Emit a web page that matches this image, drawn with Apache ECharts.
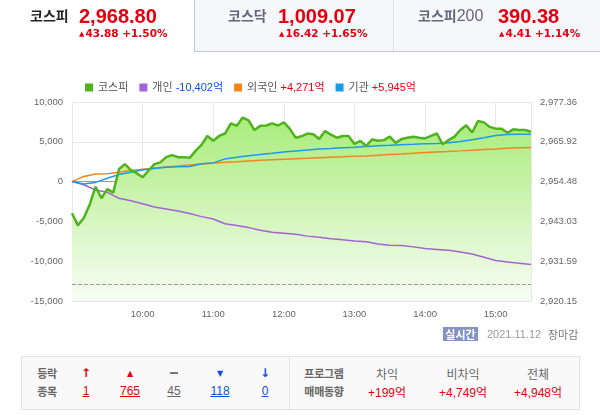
<!DOCTYPE html>
<html>
<head>
<meta charset="utf-8">
<script src="https://cdn.jsdelivr.net/npm/echarts@6/dist/echarts.min.js"></script>
<style>
  html, body { margin: 0; padding: 0; background: #fff; }
  body { width: 600px; height: 415px; position: relative; overflow: hidden; font-family: 'Noto Sans CJK KR', sans-serif; }
  #chart { position: absolute; left: 0; top: 0; width: 600px; height: 415px; }
  .abs { position: absolute; white-space: nowrap; }
  .c { position: absolute; white-space: nowrap; transform: translate(-50%, -50%); }
  .tab { position: absolute; top: -1px; height: 52px; background: #f6f7fb; border-bottom: 1px solid #c3c6d1; }
  .name { font-size: 14px; line-height: 14px; top: 8px; }
  .big { font-family: 'Liberation Sans', sans-serif; font-weight: bold; font-size: 20px; line-height: 20px; top: 6px; color: #e6000f; }
  .sub { font-family: 'DejaVu Sans', sans-serif; font-weight: bold; font-size: 10.5px; line-height: 11px; top: 28px; color: #e6000f; }
  .sub .tri { font-size: 7px; vertical-align: 1px; margin-right: 1px; }
  .box { position: absolute; left: 21px; top: 356px; width: 557px; height: 52px; background: #f9f9f9; border: 1px solid #e3e3e3; }
  .lbl { font-size: 11px; color: #666; font-weight: bold; letter-spacing: -0.3px; }
  .num { font-family: 'Liberation Sans', sans-serif; font-size: 12px; text-decoration: underline; }
  .red { color: #e6000f; }
  .blue { color: #0b50e0; }
  .gray { color: #666; }
</style>
</head>
<body>
<div id="chart"></div>

<!-- 상단 지수 탭 -->
<div class="abs name" style="left:30px;font-weight:bold;color:#222;">코스피</div>
<div class="abs big" style="left:79px;">2,968.80</div>
<div class="abs sub" style="left:79px;"><span class="tri">▲</span>43.88 +1.50%</div>

<div class="tab" style="left:194px;width:198px;border-left:1px solid #c3c6d1;"></div>
<div class="tab" style="left:393px;width:207px;border-left:1px solid #dcdee5;"></div>
<div class="abs name" style="left:228px;font-weight:bold;color:#62677b;">코스닥</div>
<div class="abs big" style="left:278px;">1,009.07</div>
<div class="abs sub" style="left:279px;"><span class="tri">▲</span>16.42 +1.65%</div>
<div class="abs name" style="left:418px;font-weight:bold;color:#62677b;">코스피<span style="font-family:'Liberation Sans';font-weight:normal;font-size:16px;">200</span></div>
<div class="abs big" style="left:498px;">390.38</div>
<div class="abs sub" style="left:499px;"><span class="tri">▲</span>4.41 +1.14%</div>

<!-- 기준 시각 -->
<div class="abs" style="left:443px;top:327px;width:35px;height:14px;background:#8593c2;color:#fff;font-size:11px;line-height:14px;text-align:center;font-weight:bold;">실시간</div>
<div class="abs" style="left:487px;top:327px;font-family:'Liberation Sans';font-size:11px;line-height:14px;color:#999;">2021.11.12</div>
<div class="abs" style="left:548px;top:327px;font-size:11px;line-height:14px;color:#777;">장마감</div>

<!-- 등락 종목 / 프로그램 매매동향 -->
<div class="box"></div>
<div class="abs" style="left:289px;top:357px;width:1px;height:52px;background:#e3e3e3;"></div>
<div class="c lbl" style="left:47px;top:373px;">등락</div>
<div class="c lbl" style="left:47px;top:391px;">종목</div>
<div class="c red" style="left:86px;top:373px;font-family:'DejaVu Sans';font-weight:bold;font-size:12px;">↑</div>
<div class="c red" style="left:130px;top:373px;font-family:'DejaVu Sans';font-size:8px;">▲</div>
<div class="abs" style="left:170px;top:372px;width:8px;height:2px;background:#777;"></div>
<div class="c blue" style="left:220px;top:373px;font-family:'DejaVu Sans';font-size:8px;">▼</div>
<div class="c blue" style="left:265px;top:373px;font-family:'DejaVu Sans';font-weight:bold;font-size:12px;">↓</div>
<div class="c num red" style="left:86px;top:391px;">1</div>
<div class="c num red" style="left:130px;top:391px;">765</div>
<div class="c num gray" style="left:174px;top:391px;">45</div>
<div class="c num blue" style="left:220px;top:391px;">118</div>
<div class="c num blue" style="left:265px;top:391px;">0</div>
<div class="c lbl" style="left:324px;top:373px;">프로그램</div>
<div class="c lbl" style="left:324px;top:391px;">매매동향</div>
<div class="c" style="left:387px;top:373px;font-size:12px;color:#666;">차익</div>
<div class="c" style="left:463px;top:373px;font-size:12px;color:#666;">비차익</div>
<div class="c" style="left:538px;top:373px;font-size:12px;color:#666;">전체</div>
<div class="c red" style="left:387px;top:391px;font-size:12px;font-family:'Liberation Sans','Noto Sans CJK KR';">+199억</div>
<div class="c red" style="left:463px;top:391px;font-size:12px;font-family:'Liberation Sans','Noto Sans CJK KR';">+4,749억</div>
<div class="c red" style="left:538px;top:391px;font-size:12px;font-family:'Liberation Sans','Noto Sans CJK KR';">+4,948억</div>

<script>
// 코스피 지수 (5분 간격)
var kospiTimes = [
  '09:00','09:05','09:10','09:15','09:20','09:25','09:30','09:35','09:40','09:45','09:50','09:55',
  '10:00','10:05','10:10','10:15','10:20','10:25','10:30','10:35','10:40','10:45','10:50','10:55',
  '11:00','11:05','11:10','11:15','11:20','11:25','11:30','11:35','11:40','11:45','11:50','11:55',
  '12:00','12:05','12:10','12:15','12:20','12:25','12:30','12:35','12:40','12:45','12:50','12:55',
  '13:00','13:05','13:10','13:15','13:20','13:25','13:30','13:35','13:40','13:45','13:50','13:55',
  '14:00','14:05','14:10','14:15','14:20','14:25','14:30','14:35','14:40','14:45','14:50','14:55',
  '15:00','15:05','15:10','15:15','15:20','15:25','15:30'
];
var kospi = [
  2945.4, 2941.9, 2944.0, 2947.8, 2953.0, 2949.7, 2952.3, 2951.3, 2958.1, 2959.5, 2957.8, 2956.9,
  2955.7, 2957.6, 2959.5, 2960.0, 2961.5, 2962.1, 2961.5, 2961.5, 2961.3, 2963.3, 2965.0, 2967.6,
  2966.2, 2967.6, 2968.3, 2971.2, 2970.5, 2972.9, 2972.1, 2969.3, 2970.5, 2970.6, 2971.2, 2970.6,
  2971.5, 2969.7, 2967.1, 2967.5, 2968.3, 2968.1, 2966.7, 2969.0, 2968.0, 2967.1, 2967.6, 2967.6,
  2965.3, 2966.2, 2964.7, 2966.6, 2966.2, 2966.4, 2967.4, 2965.6, 2966.7, 2967.1, 2967.4, 2967.1,
  2966.9, 2967.6, 2968.3, 2965.2, 2966.4, 2967.4, 2969.3, 2970.7, 2968.6, 2971.9, 2971.5, 2970.2,
  2969.7, 2969.7, 2968.5, 2969.5, 2969.3, 2969.3, 2968.8
];
var prevClose = 2924.92;

// 투자자별 순매수 (10분 간격, 억원)
var flowTimes = [
  '09:00','09:10','09:20','09:30','09:40','09:50','10:00','10:10','10:20','10:30','10:40','10:50',
  '11:00','11:10','11:20','11:30','11:40','11:50','12:00','12:10','12:20','12:30','12:40','12:50',
  '13:00','13:10','13:20','13:30','13:40','13:50','14:00','14:10','14:20','14:30','14:40','14:50',
  '15:00','15:10','15:20','15:30'
];
var personal = [
  0, -400, -1050, -1350, -2100, -2400, -2790, -3200, -3450, -3700, -4020, -4400,
  -4700, -5300, -5520, -5780, -6100, -6350, -6480, -6620, -6850, -6980, -7180, -7320,
  -7450, -7560, -7850, -8000, -8040, -8200, -8410, -8520, -8630, -8850, -9100, -9500,
  -9900, -10100, -10250, -10402
];
var foreign = [
  0, 650, 960, 980, 1180, 1380, 1550, 1700, 1850, 1960, 2100, 2200,
  2350, 2420, 2500, 2600, 2680, 2740, 2800, 2860, 2920, 3000, 3060, 3120,
  3200, 3220, 3300, 3420, 3460, 3560, 3650, 3720, 3780, 3860, 3950, 4020,
  4090, 4200, 4250, 4271
];
var institution = [
  0, -300, -100, 420, 900, 1180, 1460, 1650, 1800, 1875, 1900, 2250,
  2350, 2850, 3050, 3250, 3400, 3550, 3720, 3850, 3980, 4080, 4150, 4250,
  4330, 4420, 4500, 4560, 4640, 4680, 4750, 4800, 4880, 5050, 5250, 5500,
  5800, 5920, 5940, 5945
];

var legendNames = ['코스피', '개인', '외국인', '기관'];
var legendValues = ['', '-10,402억', '+4,271억', '+5,945억'];
var rightTicks = [2920.15, 2931.59, 2943.03, 2954.48, 2965.92, 2977.36];

function toMin(s) {
  var p = s.split(':');
  return (+p[0]) * 60 + (+p[1]);
}
function pairs(times, vals) {
  return times.map(function (t, i) { return [toMin(t), vals[i]]; });
}
function pad(n) { return n < 10 ? '0' + n : '' + n; }

var green = '#4fb41c';
var chart = echarts.init(document.getElementById('chart'));
var option = {
  animation: false,
  textStyle: { fontFamily: "'Liberation Sans', 'Noto Sans CJK KR', sans-serif" },
  grid: { left: 72, right: 69, top: 102, bottom: 114 },
  legend: {
    left: 80,
    top: 77,
    icon: 'rect',
    itemWidth: 8,
    itemHeight: 8,
    itemGap: 11,
    selectedMode: false,
    data: legendNames,
    formatter: function (name) {
      var v = legendValues[legendNames.indexOf(name)];
      if (!v) return '{n|' + name + '}';
      return '{n|' + name + '} {' + (v.charAt(0) === '-' ? 'neg' : 'pos') + '|' + v + '}';
    },
    textStyle: {
      fontSize: 11,
      color: '#555',
      rich: {
        n: { fontSize: 11, color: '#555' },
        neg: { fontSize: 11, color: '#0b50e0' },
        pos: { fontSize: 11, color: '#e6000f' }
      }
    }
  },
  xAxis: {
    type: 'value',
    min: 540,
    max: 930,
    interval: 60,
    axisLine: { lineStyle: { color: '#9a9a9a' } },
    axisTick: { inside: true, length: 4, lineStyle: { color: '#9a9a9a' } },
    axisLabel: {
      color: '#666',
      fontSize: 9.5,
      margin: 9,
      showMinLabel: false,
      showMaxLabel: false,
      formatter: function (v) { return pad(Math.floor(v / 60)) + ':' + pad(v % 60); }
    },
    splitLine: { show: true, lineStyle: { color: '#e8e8e8' } }
  },
  yAxis: [
    {
      type: 'value',
      min: -15000,
      max: 10000,
      interval: 5000,
      axisLine: { show: false },
      axisTick: { show: false },
      axisLabel: {
        color: '#666',
        fontSize: 9.5,
        margin: 9,
        formatter: function (v) { return v.toLocaleString('en-US'); }
      },
      splitLine: { lineStyle: { color: '#e8e8e8' } }
    },
    {
      type: 'value',
      position: 'right',
      min: rightTicks[0],
      max: rightTicks[rightTicks.length - 1],
      axisLine: { show: false },
      axisTick: { show: false },
      splitLine: { show: false },
      axisLabel: {
        color: '#666',
        fontSize: 9.5,
        margin: 9,
        customValues: rightTicks,
        formatter: function (v) {
          return v.toLocaleString('en-US', { minimumFractionDigits: 2, maximumFractionDigits: 2 });
        }
      }
    }
  ],
  series: [
    {
      // 지수 영역 (선 아래 채움)
      name: '코스피',
      type: 'line',
      yAxisIndex: 1,
      data: pairs(kospiTimes, kospi),
      showSymbol: false,
      itemStyle: { color: green },
      lineStyle: { width: 0 },
      areaStyle: {
        origin: 'start',
        opacity: 1,
        color: new echarts.graphic.LinearGradient(0, 0, 0, 1, [
          { offset: 0, color: '#a9ec7b' },
          { offset: 1, color: '#f8fdf5' }
        ])
      },
      markLine: {
        silent: true,
        symbol: 'none',
        label: { show: false },
        lineStyle: { color: '#999', type: 'dashed', width: 1 },
        data: [{ yAxis: prevClose }]
      },
      z: 1
    },
    {
      name: '개인',
      type: 'line',
      data: pairs(flowTimes, personal),
      showSymbol: false,
      itemStyle: { color: '#a463d4' },
      lineStyle: { width: 1.5, color: '#a463d4' },
      z: 2
    },
    {
      name: '외국인',
      type: 'line',
      data: pairs(flowTimes, foreign),
      showSymbol: false,
      itemStyle: { color: '#f5841c' },
      lineStyle: { width: 1.5, color: '#f5841c' },
      z: 2
    },
    {
      name: '기관',
      type: 'line',
      data: pairs(flowTimes, institution),
      showSymbol: false,
      itemStyle: { color: '#1c9be6' },
      lineStyle: { width: 1.5, color: '#1c9be6' },
      z: 2
    },
    {
      name: '코스피',
      type: 'line',
      yAxisIndex: 1,
      data: pairs(kospiTimes, kospi),
      showSymbol: false,
      itemStyle: { color: green },
      lineStyle: { width: 2.5, color: green },
      z: 3
    }
  ]
};
chart.setOption(option);
</script>
</body>
</html>
